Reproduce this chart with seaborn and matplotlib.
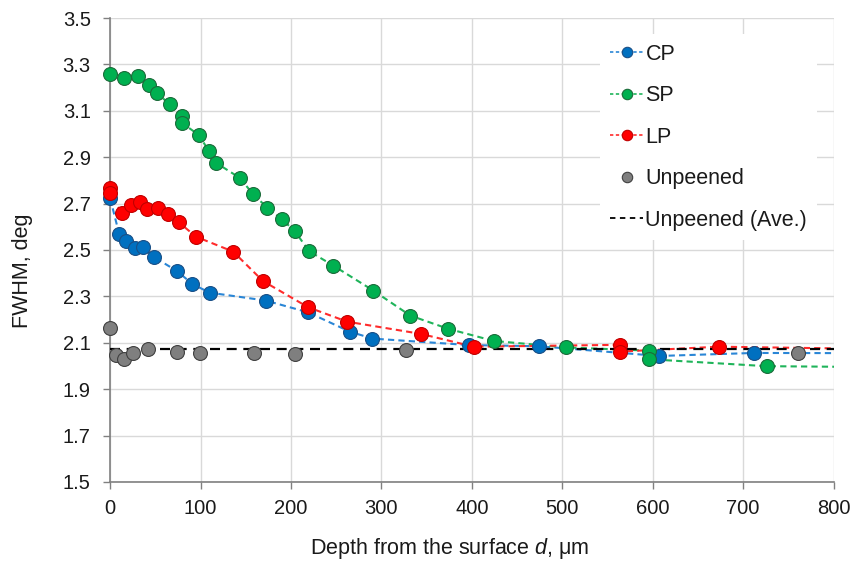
import numpy as np
import pandas as pd
import matplotlib
matplotlib.use("Agg")
import matplotlib.pyplot as plt
from matplotlib.lines import Line2D
import seaborn as sns

# ---- data ----
cp_x = [0, 10, 18, 27, 36, 49, 74, 91, 110, 172, 219, 265, 290, 397, 474, 607, 712, 850]
cp_y = [2.723, 2.568, 2.539, 2.507, 2.512, 2.468, 2.409, 2.353, 2.316, 2.282, 2.231, 2.148, 2.118, 2.090, 2.085, 2.043, 2.056, 2.055]

sp_x = [0, 15, 31, 43, 52, 66, 80, 80, 98, 109, 117, 144, 158, 174, 190, 204, 220, 247, 291, 332, 374, 424, 504, 596, 596, 726, 850]
sp_y = [3.259, 3.240, 3.250, 3.211, 3.175, 3.128, 3.079, 3.046, 2.996, 2.928, 2.876, 2.809, 2.740, 2.682, 2.632, 2.582, 2.495, 2.432, 2.325, 2.217, 2.160, 2.108, 2.080, 2.066, 2.029, 1.999, 1.995]

lp_x = [0, 0, 13, 23, 33, 41, 53, 64, 76, 95, 136, 169, 219, 262, 344, 402, 564, 564, 673, 850]
lp_y = [2.766, 2.744, 2.658, 2.694, 2.706, 2.675, 2.680, 2.655, 2.619, 2.557, 2.493, 2.366, 2.253, 2.191, 2.138, 2.083, 2.091, 2.062, 2.083, 2.073]

un_x = [0, 6, 15, 25, 42, 74, 99, 159, 204, 327, 761]
un_y = [2.165, 2.047, 2.030, 2.057, 2.072, 2.062, 2.055, 2.057, 2.050, 2.069, 2.057]

avg_x = [0, 800]
avg_y = [2.072, 2.072]

x_ticks = [0, 100, 200, 300, 400, 500, 600, 700, 800]
y_ticks = [1.5, 1.7, 1.9, 2.1, 2.3, 2.5, 2.7, 2.9, 3.1, 3.3, 3.5]

series_names = ["CP", "SP", "LP"]
line_colors = {"CP": "#2a86d6", "SP": "#1fb45a", "LP": "#ff2b2b"}
face_colors = {"CP": "#0070C0", "SP": "#00B050", "LP": "#FF0000"}
edge_colors = {"CP": "#1a4f86", "SP": "#1c6b3a", "LP": "#c00000"}

# ---- style ----
sns.set_theme(style="whitegrid")
plt.rcParams["font.family"] = ["Liberation Sans", "DejaVu Sans"]
plt.rcParams["mathtext.fontset"] = "custom"
plt.rcParams["mathtext.rm"] = "Liberation Sans"
plt.rcParams["mathtext.it"] = "Liberation Sans:italic"

frames = []
for name, xs, ys in [("CP", cp_x, cp_y), ("SP", sp_x, sp_y), ("LP", lp_x, lp_y)]:
    frames.append(pd.DataFrame({"d": xs, "fwhm": ys, "series": name}))
df = pd.concat(frames, ignore_index=True)
df_un = pd.DataFrame({"d": un_x, "fwhm": un_y})
df_avg = pd.DataFrame({"d": avg_x, "fwhm": avg_y})

fig = plt.figure(figsize=(8.54, 5.63), dpi=100)
ax = fig.add_axes([0.129, 0.144, 0.847, 0.824])

# lines
for name in series_names:
    sub = df[df.series == name]
    sns.lineplot(data=sub, x="d", y="fwhm", sort=False, estimator=None, ax=ax,
                 color=line_colors[name], lw=1.5, legend=False, zorder=2)
    ax.lines[-1].set_dashes((3, 2))

sns.lineplot(data=df_avg, x="d", y="fwhm", sort=False, estimator=None, ax=ax,
             color="black", lw=1.6, legend=False, zorder=3)
ax.lines[-1].set_dashes((4.5, 3))

# markers
for name in series_names:
    sub = df[(df.series == name) & (df.d <= 800)]
    sns.scatterplot(data=sub, x="d", y="fwhm", ax=ax, s=100, color=face_colors[name],
                    edgecolor=edge_colors[name], linewidth=0.8, legend=False, zorder=4)
    ax.collections[-1].set_clip_on(False)
sns.scatterplot(data=df_un, x="d", y="fwhm", ax=ax, s=100, color="#7f7f7f",
                edgecolor="#404040", linewidth=0.8, legend=False, zorder=5)
ax.collections[-1].set_clip_on(False)

ax.set_xlim(0, 800)
ax.set_ylim(1.5, 3.5)
ax.set_xticks(x_ticks)
ax.set_yticks(y_ticks)
ax.set_yticklabels([f"{v:.1f}" for v in y_ticks])
ax.grid(True, color="#d9d9d9", lw=1.0)
ax.set_axisbelow(True)
for s in ["top", "right"]:
    ax.spines[s].set_visible(False)
for s in ["left", "bottom"]:
    ax.spines[s].set_visible(True)
    ax.spines[s].set_color("#808080")
    ax.spines[s].set_linewidth(1.2)
ax.tick_params(axis="both", which="major", labelsize=14.5, colors="#808080",
               labelcolor="#1a1a1a", length=5, width=1.0, direction="out")
ax.tick_params(axis="y", pad=9)
ax.tick_params(axis="x", pad=7)
ax.tick_params(left=True, bottom=True)

ax.set_xlabel("Depth from the surface $\\it{d}$, μm", fontsize=15.5, color="#1a1a1a")
ax.set_ylabel("FWHM, deg", fontsize=15.5, color="#1a1a1a")
ax.xaxis.set_label_coords(0.47, -0.117)
ax.yaxis.set_label_coords(-0.106, 0.455)

handles = []
for name in series_names:
    handles.append(Line2D([0], [0], color=line_colors[name], lw=1.2, dashes=(2, 1.5),
                          marker="o", markersize=7.5, markerfacecolor=face_colors[name],
                          markeredgecolor=edge_colors[name], markeredgewidth=0.8))
handles.append(Line2D([0], [0], color="none", marker="o", markersize=7.5,
                      markerfacecolor="#7f7f7f", markeredgecolor="#404040", markeredgewidth=0.8))
handles.append(Line2D([0], [0], color="black", lw=1.3, dashes=(3, 2.5)))
labels = ["CP", "SP", "LP", "Unpeened", "Unpeened (Ave.)"]
leg = ax.legend(handles, labels, loc="upper right", bbox_to_anchor=(0.977, 0.965),
                fontsize=15.5, frameon=True, framealpha=1, facecolor="white", edgecolor="white",
                handlelength=1.55, handletextpad=0.1, labelspacing=0.95, borderpad=0.45,
                borderaxespad=0.0)
leg.get_frame().set_linewidth(0)
leg.set_zorder(10)
for t in leg.get_texts():
    t.set_color("#1a1a1a")

fig.savefig("out.png", dpi=100)
